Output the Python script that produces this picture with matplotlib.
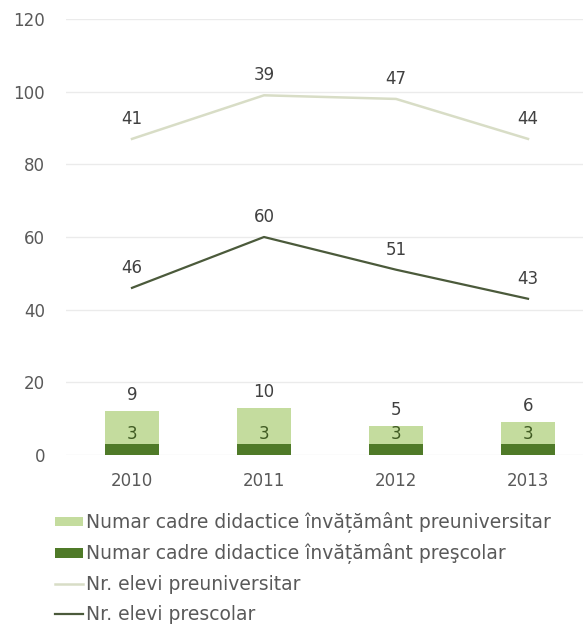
import matplotlib
matplotlib.use("Agg")
import matplotlib.pyplot as plt
import numpy as np

years = ["2010", "2011", "2012", "2013"]
cadre_prescolar = [3, 3, 3, 3]
cadre_preuniv = [9, 10, 5, 6]
elevi_prescolar = [46, 60, 51, 43]
elevi_preuniv = [41, 39, 47, 44]
yticks = [0, 20, 40, 60, 80, 100, 120]

labels = [
    "Numar cadre didactice învățământ preuniversitar",
    "Numar cadre didactice învățământ preşcolar",
    "Nr. elevi preuniversitar",
    "Nr. elevi prescolar",
]

c_light_bar = "#c4dc9e"
c_dark_bar = "#4f7a28"
c_light_line = "#d8ddc6"
c_dark_line = "#4b5a3b"
c_text = "#404040"
c_tick = "#595959"

plt.rcParams['font.family'] = ['DejaVu Sans']
W, H = 583, 626
fig = plt.figure(figsize=(W / 100, H / 100), dpi=100)
left, right = 66 / W, 594 / W
bottom, top = (H - 455) / H, (H - 19) / H
ax = fig.add_axes([left, bottom, right - left, top - bottom])

x = np.arange(len(years))
bw = 0.41
b1 = ax.bar(x, cadre_prescolar, bw, color=c_dark_bar, zorder=2, label=labels[1])
b2 = ax.bar(x, cadre_preuniv, bw, bottom=cadre_prescolar, color=c_light_bar, zorder=2, label=labels[0])

stack_top = np.add(elevi_prescolar, elevi_preuniv)
l2, = ax.plot(x, stack_top, color=c_light_line, lw=1.8, zorder=3, label=labels[2])
l1, = ax.plot(x, elevi_prescolar, color=c_dark_line, lw=1.6, zorder=3, label=labels[3])

fs = 12
for i in range(len(years)):
    ax.annotate(str(cadre_prescolar[i]), (x[i], cadre_prescolar[i]), xytext=(0, 1),
                textcoords="offset points", ha="center", va="bottom", fontsize=fs, color="#3f5a22")
    tot = cadre_prescolar[i] + cadre_preuniv[i]
    ax.annotate(str(cadre_preuniv[i]), (x[i], tot), xytext=(0, 5),
                textcoords="offset points", ha="center", va="bottom",
                fontsize=fs, color=c_text)
    ax.annotate(str(elevi_prescolar[i]), (x[i], elevi_prescolar[i]), xytext=(0, 8),
                textcoords="offset points", ha="center", va="bottom", fontsize=fs, color=c_text)
    ax.annotate(str(elevi_preuniv[i]), (x[i], stack_top[i]), xytext=(0, 8),
                textcoords="offset points", ha="center", va="bottom", fontsize=fs, color=c_text)

ax.set_xlim(-0.5, len(years) - 0.5)
ax.set_ylim(0, 120)
ax.set_yticks(yticks)
ax.set_xticks(x)
ax.set_xticklabels(years)
ax.tick_params(axis="both", length=0, labelsize=fs, labelcolor=c_tick)
ax.tick_params(axis="y", pad=15)
ax.tick_params(axis="x", pad=12)
ax.grid(axis="y", color="#ebebeb", lw=1, zorder=0)
for s in ax.spines.values():
    s.set_visible(False)

handles = [b2, b1, l2, l1]
fig.legend(handles, labels, loc="upper left", bbox_to_anchor=(55 / W, (H - 512) / H),
           frameon=False, fontsize=13.5, labelcolor=c_tick, handlelength=1.5,
           handleheight=0.4, handletextpad=0.15, labelspacing=0.56, borderpad=0,
           borderaxespad=0)

fig.savefig("out.png", dpi=100)
